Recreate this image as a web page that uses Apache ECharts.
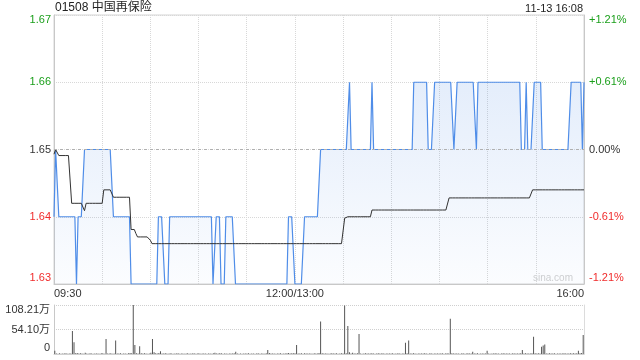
<!DOCTYPE html>
<html>
<head>
<meta charset="utf-8">
<script src="https://cdn.jsdelivr.net/npm/echarts@6/dist/echarts.min.js"></script>
<style>html,body{margin:0;padding:0;background:#fff}#c{width:640px;height:360px}</style>
</head>
<body>
<div id="c"></div>
<script>
const title = '01508 中国再保险';
const stamp = '11-13 16:08';
const prevClose = 1.65;
const priceTicks = ['1.63','1.64','1.65','1.66','1.67'];
const pctTicks = ['-1.21%','-0.61%','0.00%','+0.61%','+1.21%'];
const volTicks = ['0','54.10万','108.21万'];
const xTickIdx = [0,150,330];
const xTickLabels = ['09:30','12:00/13:00','16:00'];

const price = [
1.64,1.65,1.65,1.64,1.64,1.64,1.64,1.64,1.64,1.64,
1.64,1.64,1.64,1.64,1.63,1.64,1.64,1.64,1.64,1.65,
1.65,1.65,1.65,1.65,1.65,1.65,1.65,1.65,1.65,1.65,
1.65,1.65,1.65,1.65,1.65,1.65,1.65,1.64,1.64,1.64,
1.64,1.64,1.64,1.64,1.64,1.64,1.64,1.64,1.63,1.63,
1.63,1.63,1.63,1.63,1.63,1.63,1.63,1.63,1.63,1.63,
1.63,1.63,1.63,1.63,1.63,1.64,1.64,1.64,1.64,1.63,
1.63,1.63,1.64,1.64,1.64,1.64,1.64,1.64,1.64,1.64,
1.64,1.64,1.64,1.64,1.64,1.64,1.64,1.64,1.64,1.64,
1.64,1.64,1.64,1.64,1.64,1.64,1.64,1.64,1.64,1.63,
1.63,1.64,1.64,1.64,1.63,1.63,1.63,1.64,1.64,1.64,
1.64,1.64,1.64,1.63,1.63,1.63,1.63,1.63,1.63,1.63,
1.63,1.63,1.63,1.63,1.63,1.63,1.63,1.63,1.63,1.63,
1.63,1.63,1.63,1.63,1.63,1.63,1.63,1.63,1.63,1.63,
1.63,1.63,1.63,1.63,1.63,1.63,1.64,1.64,1.64,1.64,
1.63,1.63,1.63,1.63,1.63,1.63,1.64,1.64,1.64,1.64,
1.64,1.64,1.64,1.64,1.64,1.64,1.65,1.65,1.65,1.65,
1.65,1.65,1.65,1.65,1.65,1.65,1.65,1.65,1.65,1.65,
1.65,1.65,1.65,1.65,1.66,1.65,1.65,1.65,1.65,1.65,
1.65,1.65,1.65,1.65,1.65,1.65,1.65,1.65,1.66,1.65,
1.65,1.65,1.65,1.65,1.65,1.65,1.65,1.65,1.65,1.65,
1.65,1.65,1.65,1.65,1.65,1.65,1.65,1.65,1.65,1.65,
1.65,1.65,1.65,1.65,1.66,1.66,1.66,1.66,1.66,1.66,
1.66,1.66,1.66,1.65,1.65,1.65,1.65,1.66,1.66,1.66,
1.66,1.66,1.66,1.66,1.66,1.66,1.66,1.66,1.66,1.65,
1.65,1.66,1.66,1.66,1.66,1.66,1.66,1.66,1.66,1.66,
1.66,1.66,1.66,1.65,1.66,1.66,1.66,1.66,1.66,1.66,
1.66,1.66,1.66,1.66,1.66,1.66,1.66,1.66,1.66,1.66,
1.66,1.66,1.66,1.66,1.66,1.66,1.66,1.66,1.66,1.66,
1.66,1.65,1.65,1.65,1.66,1.65,1.65,1.65,1.65,1.66,
1.66,1.66,1.66,1.66,1.65,1.65,1.65,1.65,1.65,1.65,
1.65,1.65,1.65,1.65,1.65,1.65,1.65,1.65,1.65,1.65,
1.65,1.65,1.66,1.66,1.66,1.66,1.66,1.66,1.66,1.65,
1.66
];

const avg = [
1.6493,1.65,1.65,1.6491,1.6491,1.6491,1.6491,1.6491,1.6491,1.6491,
1.6491,1.642,1.642,1.642,1.642,1.642,1.642,1.642,1.642,1.6409,
1.642,1.642,1.642,1.642,1.642,1.642,1.642,1.642,1.642,1.642,
1.642,1.644,1.644,1.644,1.644,1.644,1.644,1.6429,1.6429,1.6429,
1.6429,1.6429,1.6429,1.6429,1.6429,1.6429,1.6429,1.6429,1.6381,1.6381,
1.6381,1.6375,1.637,1.637,1.637,1.637,1.637,1.637,1.637,1.637,
1.6365,1.636,1.636,1.636,1.636,1.636,1.636,1.636,1.636,1.636,
1.636,1.636,1.636,1.636,1.636,1.636,1.636,1.636,1.636,1.636,
1.636,1.636,1.636,1.636,1.636,1.636,1.636,1.636,1.636,1.636,
1.636,1.636,1.636,1.636,1.636,1.636,1.636,1.636,1.636,1.636,
1.636,1.636,1.636,1.636,1.636,1.636,1.636,1.636,1.636,1.636,
1.636,1.636,1.636,1.636,1.636,1.636,1.636,1.636,1.636,1.636,
1.636,1.636,1.636,1.636,1.636,1.636,1.636,1.636,1.636,1.636,
1.636,1.636,1.636,1.636,1.636,1.636,1.636,1.636,1.636,1.636,
1.636,1.636,1.636,1.636,1.636,1.636,1.636,1.636,1.636,1.636,
1.636,1.636,1.636,1.636,1.636,1.636,1.636,1.636,1.636,1.636,
1.636,1.636,1.636,1.636,1.636,1.636,1.636,1.636,1.636,1.636,
1.636,1.636,1.636,1.636,1.636,1.636,1.636,1.636,1.636,1.636,
1.636,1.6398,1.640,1.640,1.640,1.640,1.640,1.640,1.640,1.640,
1.640,1.640,1.640,1.640,1.640,1.640,1.640,1.640,1.641,1.641,
1.641,1.641,1.641,1.641,1.641,1.641,1.641,1.641,1.641,1.641,
1.641,1.641,1.641,1.641,1.641,1.641,1.641,1.641,1.641,1.641,
1.641,1.641,1.641,1.641,1.641,1.641,1.641,1.641,1.641,1.641,
1.641,1.641,1.641,1.641,1.641,1.641,1.641,1.641,1.641,1.641,
1.641,1.641,1.641,1.641,1.641,1.641,1.6428,1.6428,1.6428,1.6428,
1.6428,1.6428,1.6428,1.6428,1.6428,1.6428,1.6428,1.6428,1.6428,1.6428,
1.6428,1.6428,1.6428,1.6428,1.6428,1.6428,1.6428,1.6428,1.6428,1.6428,
1.6428,1.6428,1.6428,1.6428,1.6428,1.6428,1.6428,1.6428,1.6428,1.6428,
1.6428,1.6428,1.6428,1.6428,1.6428,1.6428,1.6428,1.6428,1.6428,1.6428,
1.6428,1.6428,1.6428,1.6428,1.6428,1.6428,1.6428,1.6428,1.644,1.644,
1.644,1.644,1.644,1.644,1.644,1.644,1.644,1.644,1.644,1.644,
1.644,1.644,1.644,1.644,1.644,1.644,1.644,1.644,1.644,1.644,
1.644,1.644,1.644,1.644,1.644,1.644,1.644,1.644,1.644,1.644,
1.644
];

const volume = [
7,1.2,0.8,1.5,0.6,1,0.9,1.8,0.7,1.1,
1.3,51,26,1.6,2.2,0.9,1.4,1,0.8,2.5,
1.2,0.7,1.9,1,0.6,1.3,0.9,1.1,0.5,1.4,
1.6,0.8,33,1.2,0.9,1.5,0.7,1.1,30,1.3,
0.9,1.6,0.8,1.2,1,0.7,1.4,2,1.5,108.21,
20,1.8,1.2,17,1.4,0.9,1.6,1.1,0.8,1.3,
2.6,33,4,1.5,1.2,2.1,6,1.3,0.9,1.7,
1.1,0.8,1.4,1,0.7,1.2,0.9,1.5,0.6,1.1,
1.3,0.8,1,1.6,0.7,1.2,0.9,1.4,0.8,1,
1.5,0.7,1.1,0.9,1.3,0.6,1.2,1,0.8,1.8,
3,1.2,0.9,1.4,1.6,0.8,1.1,1.3,0.7,1,
1.2,0.9,1.5,5,1.1,0.8,1.3,0.7,1,1.2,
0.9,1.4,0.6,1.1,1.3,0.8,1,1.5,0.7,1.2,
1,0.8,1.4,9,2,1.1,0.9,1.3,0.6,1.2,
1,1.5,0.8,1.1,1.3,1.7,2.2,0.9,1.4,1.6,
1.8,20,1.2,1,1.5,0.8,1.9,1.1,0.9,1.3,
1.2,0.7,1.5,1,1.3,2.1,72,1.6,1.1,0.9,
1.3,0.8,1.2,1.5,0.9,1.1,1.4,0.7,1,1.6,
1.2,107,1.8,62,4,1.3,2.5,1,0.9,1.4,
44,1.2,0.8,1.1,1.5,0.9,1.3,1,1.7,1.2,
0.8,1.1,1.4,0.9,1.2,1.6,0.7,1,1.3,0.9,
1.1,1.5,0.8,1.2,1,1.4,0.7,1.1,1.3,25,
1.6,30,1.2,0.9,1.5,1.1,0.8,1.3,1,1.2,
0.9,1.4,1.1,0.8,1.2,1.5,0.7,1,1.3,0.9,
1.2,1,1.4,0.8,1.1,1.6,1.3,78,1.5,1,
0.9,1.3,1.1,0.8,1.2,1.4,0.7,1,1.5,1.1,
0.9,5,1.2,1,1.4,0.8,1.1,1.3,0.9,1.2,
7,1.1,0.8,1.3,1,1.5,0.9,1.2,0.7,1.1,
1.4,0.9,1.2,1,1.3,0.8,1.6,1.1,0.9,1.2,
1,1.4,9,1.2,1.5,1.1,0.9,1.3,1.8,38,
1.6,1.2,1.4,1.1,16,19,21,1.3,0.9,1.5,
1.2,1,1.4,0.8,1.1,1.3,0.9,1.2,1.5,1,
1.3,0.9,1.6,1.1,1.4,1.2,1.8,7,1.5,2.2,
42
];

// trading-minute categories: 09:30-11:59, 13:00-16:00
const times = [];
function hm(m){const h=Math.floor(m/60), mm=m%60; return (h<10?'0':'')+h+':'+(mm<10?'0':'')+mm;}
for (let m = 570; m < 720; m++) times.push(hm(m));
for (let m = 780; m <= 960; m++) times.push(hm(m));

const FONT = "'Liberation Sans', Arial, 'Noto Sans CJK SC', sans-serif";
const GREEN = '#1a9f1a', RED = '#f02c2c', DARK = '#333';
const fs = 11;
function rs(color, pad){ return {color: color, fontSize: fs, fontFamily: FONT, padding: pad}; }
const richY = {
  gT: rs(GREEN,[10,0,0,0]), g: rs(GREEN,[0,0,0,0]), k: rs(DARK,[0,0,0,0]),
  r: rs(RED,[0,0,0,0]), rB: rs(RED,[0,0,12,0]),
  kT: rs(DARK,[10,0,0,0]), kB: rs(DARK,[0,0,12,0])
};
function styleKey(k, n){
  if (k === n-1) return 'gT';
  if (k === 0) return 'rB';
  if (k > 2) return 'g';
  if (k === 2) return 'k';
  return 'r';
}
function priceIdx(v){ return Math.round((v - 1.63) / 0.01); }

const chart = echarts.init(document.getElementById('c'), null, {renderer: 'canvas'});
chart.setOption({
  animation: false,
  backgroundColor: '#fff',
  textStyle: {fontFamily: FONT},
  graphic: [
    {type:'text', left: 55, top: 2, style:{text: title, fontSize: 12, fontFamily: FONT, fill: '#222'}},
    {type:'text', right: 57, top: 3, style:{text: stamp, fontSize: 11, fontFamily: FONT, fill: '#222'}},
    {type:'text', right: 67, top: 273, z: 0, style:{text: 'sina.com', fontSize: 10, fontFamily: FONT, fill: '#d0d0d0'}}
  ],
  grid: [
    {left: 54, top: 15, width: 530, height: 269, show: true, borderColor: '#d4d4d4', borderWidth: 1},
    {left: 54, top: 305, width: 530, height: 49}
  ],
  xAxis: [
    {type: 'category', gridIndex: 0, data: times, boundaryGap: false,
     axisLine: {show: true, lineStyle: {color: '#c8c8c8'}}, axisTick: {show: false},
     splitLine: {show: true, interval: (i) => i % 30 === 0 && i !== 0 && i !== 330, lineStyle: {color: '#d8d8d8', type: 'dotted'}},
     axisLabel: {show: true, interval: (i) => xTickIdx.indexOf(i) >= 0, margin: 4, fontSize: 11, fontFamily: FONT, color: DARK,
       alignMinLabel: 'left', alignMaxLabel: 'right',
       formatter: (v, i) => { const k = xTickIdx.indexOf(i); return k >= 0 ? xTickLabels[k] : ''; }}},
    {type: 'category', gridIndex: 1, data: times, boundaryGap: true,
     axisLine: {show: true, lineStyle: {color: '#d0d0d0'}}, axisTick: {show: false}, axisLabel: {show: false}, splitLine: {show: false}}
  ],
  yAxis: [
    {type: 'value', gridIndex: 0, min: 1.63, max: 1.67, interval: 0.01, position: 'left',
     axisLine: {show: true, lineStyle: {color: '#c8c8c8'}}, axisTick: {show: false},
     splitLine: {show: true, lineStyle: {color: '#d8d8d8', type: 'dotted'}},
     axisLabel: {margin: 3, rich: richY, formatter: (v) => { const k = priceIdx(v); return '{' + styleKey(k, priceTicks.length) + '|' + priceTicks[k] + '}'; }}},
    {type: 'value', gridIndex: 0, min: 1.63, max: 1.67, interval: 0.01, position: 'right',
     axisLine: {show: true, lineStyle: {color: '#c8c8c8'}}, axisTick: {show: false}, splitLine: {show: false},
     axisLabel: {margin: 5, rich: richY, formatter: (v) => { const k = priceIdx(v); return '{' + styleKey(k, pctTicks.length) + '|' + pctTicks[k] + '}'; }}},
    {type: 'value', gridIndex: 1, min: 0, max: 108.21, interval: 54.105, position: 'left',
     axisLine: {show: true, lineStyle: {color: '#c8c8c8'}}, axisTick: {show: false},
     splitLine: {show: true, lineStyle: {color: '#cfcfcf', type: 'dotted'}},
     axisLabel: {margin: 4, rich: richY, formatter: (v) => { const k = Math.round(v / 54.105); const key = k === 2 ? 'kT' : (k === 0 ? 'kB' : 'k'); return '{' + key + '|' + volTicks[k] + '}'; }}},
    {type: 'value', gridIndex: 1, min: 0, max: 108.21, position: 'right',
     axisLine: {show: true, lineStyle: {color: '#dcdcdc'}}, axisTick: {show: false}, axisLabel: {show: false}, splitLine: {show: false}}
  ],
  series: [
    {type: 'line', xAxisIndex: 0, yAxisIndex: 0, data: price, showSymbol: false, symbol: 'none',
     lineStyle: {color: '#4f8de8', width: 1.2},
     areaStyle: {color: new echarts.graphic.LinearGradient(0, 0, 0, 1, [
       {offset: 0, color: 'rgba(80,140,230,0.22)'}, {offset: 1, color: 'rgba(80,140,230,0.03)'}])},
     markLine: {silent: true, symbol: ['none', 'none'], label: {show: false},
       lineStyle: {color: '#b0b0b0', type: [3, 3], width: 1}, data: [{yAxis: prevClose}]}},
    {type: 'line', xAxisIndex: 0, yAxisIndex: 0, data: avg, showSymbol: false, symbol: 'none',
     lineStyle: {color: '#333', width: 1}},
    {type: 'bar', xAxisIndex: 1, yAxisIndex: 2, data: volume, barWidth: 1, itemStyle: {color: '#555'}}
  ]
});
</script>
</body>
</html>
